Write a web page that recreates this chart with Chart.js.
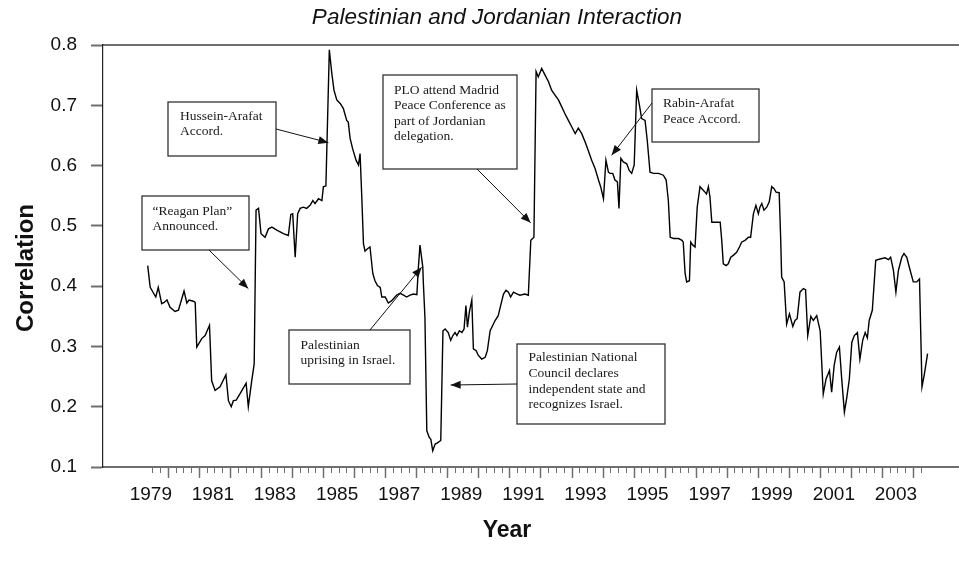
<!DOCTYPE html>
<html>
<head>
<meta charset="utf-8">
<title>Palestinian and Jordanian Interaction</title>
<script src="https://cdn.jsdelivr.net/npm/chart.js@4/dist/chart.umd.min.js"></script>
<style>
  html, body { margin: 0; padding: 0; background: #fff; }
  #chart { display: block; }
</style>
</head>
<body>
<canvas id="chart" width="959" height="574"></canvas>
<script>
// Data (decimal year, correlation)
const years = [
  1978.90, 1978.98, 1979.16, 1979.24, 1979.35, 1979.43, 1979.52, 1979.62, 1979.78, 1979.89,
  1980.07, 1980.16, 1980.23, 1980.37, 1980.43, 1980.48, 1980.64, 1980.75, 1980.89, 1980.96,
  1981.07, 1981.23, 1981.42, 1981.50, 1981.59, 1981.66, 1981.75, 1981.88, 1982.07, 1982.14,
  1982.25, 1982.33, 1982.39, 1982.47, 1982.55, 1982.68, 1982.79, 1982.90, 1983.06, 1983.27,
  1983.43, 1983.51, 1983.57, 1983.65, 1983.73, 1983.81, 1983.91, 1984.02, 1984.13, 1984.22,
  1984.29, 1984.40, 1984.51, 1984.56, 1984.64, 1984.75, 1984.83, 1984.90, 1984.99, 1985.10,
  1985.20, 1985.31, 1985.36, 1985.42, 1985.50, 1985.61, 1985.69, 1985.74, 1985.80, 1985.85,
  1985.90, 1985.98, 1986.06, 1986.15, 1986.22, 1986.30, 1986.39, 1986.44, 1986.55, 1986.65,
  1986.76, 1986.92, 1987.03, 1987.14, 1987.24, 1987.35, 1987.46, 1987.57, 1987.62, 1987.67,
  1987.76, 1987.78, 1987.83, 1987.89, 1987.97, 1988.02, 1988.08, 1988.16, 1988.23, 1988.34,
  1988.41, 1988.48, 1988.58, 1988.66, 1988.73, 1988.80, 1988.86, 1988.94, 1989.02, 1989.09,
  1989.15, 1989.20, 1989.26, 1989.34, 1989.39, 1989.48, 1989.55, 1989.66, 1989.77, 1989.84,
  1989.93, 1990.09, 1990.19, 1990.27, 1990.36, 1990.44, 1990.52, 1990.59, 1990.68, 1990.79,
  1990.89, 1991.05, 1991.16, 1991.24, 1991.34, 1991.41, 1991.48, 1991.59, 1991.70, 1991.81,
  1991.91, 1992.02, 1992.13, 1992.24, 1992.34, 1992.45, 1992.56, 1992.67, 1992.77, 1992.88,
  1992.99, 1993.09, 1993.20, 1993.31, 1993.42, 1993.49, 1993.58, 1993.66, 1993.74, 1993.79,
  1993.88, 1993.95, 1994.03, 1994.08, 1994.14, 1994.22, 1994.33, 1994.41, 1994.49, 1994.57,
  1994.65, 1994.74, 1994.81, 1994.92, 1994.99, 1995.08, 1995.19, 1995.35, 1995.51, 1995.60,
  1995.67, 1995.73, 1995.84, 1996.00, 1996.11, 1996.15, 1996.21, 1996.26, 1996.35, 1996.39,
  1996.46, 1996.53, 1996.60, 1996.69, 1996.78, 1996.85, 1996.90, 1996.96, 1997.01, 1997.07,
  1997.17, 1997.34, 1997.39, 1997.44, 1997.53, 1997.60, 1997.68, 1997.76, 1997.87, 1997.96,
  1998.03, 1998.14, 1998.25, 1998.32, 1998.41, 1998.49, 1998.57, 1998.62, 1998.68, 1998.75,
  1998.84, 1998.92, 1999.00, 1999.07, 1999.14, 1999.24, 1999.29, 1999.32, 1999.40, 1999.48,
  1999.57, 1999.68, 1999.75, 1999.82, 1999.91, 2000.02, 2000.09, 2000.16, 2000.26, 2000.34,
  2000.45, 2000.56, 2000.66, 2000.75, 2000.86, 2000.93, 2001.01, 2001.09, 2001.18, 2001.25,
  2001.34, 2001.42, 2001.50, 2001.58, 2001.66, 2001.76, 2001.84, 2001.93, 2002.01, 2002.08,
  2002.14, 2002.24, 2002.35, 2002.49, 2002.65, 2002.76, 2002.83, 2002.92, 2003.00, 2003.08,
  2003.19, 2003.26, 2003.35, 2003.46, 2003.56, 2003.67, 2003.76, 2003.84, 2003.91, 2004.02
];
const correlation = [
  0.434, 0.398, 0.382, 0.398, 0.371, 0.373, 0.377, 0.365, 0.358, 0.360,
  0.392, 0.372, 0.377, 0.375, 0.373, 0.299, 0.313, 0.318, 0.335, 0.243,
  0.227, 0.233, 0.253, 0.210, 0.200, 0.210, 0.211, 0.222, 0.239, 0.200,
  0.243, 0.271, 0.526, 0.529, 0.487, 0.481, 0.495, 0.498, 0.493, 0.487,
  0.484, 0.519, 0.520, 0.448, 0.520, 0.529, 0.531, 0.529, 0.534, 0.542,
  0.537, 0.545, 0.542, 0.565, 0.566, 0.792, 0.753, 0.725, 0.709, 0.703,
  0.695, 0.675, 0.672, 0.645, 0.628, 0.609, 0.601, 0.620, 0.542, 0.470,
  0.458, 0.462, 0.465, 0.421, 0.409, 0.401, 0.398, 0.382, 0.382, 0.372,
  0.376, 0.385, 0.388, 0.385, 0.382, 0.385, 0.387, 0.386, 0.432, 0.468,
  0.432, 0.404, 0.348, 0.160, 0.149, 0.146, 0.127, 0.138, 0.140, 0.144,
  0.326, 0.329, 0.323, 0.310, 0.318, 0.323, 0.318, 0.326, 0.323, 0.329,
  0.368, 0.332, 0.357, 0.377, 0.296, 0.293, 0.285, 0.279, 0.282, 0.293,
  0.326, 0.343, 0.351, 0.368, 0.387, 0.393, 0.390, 0.382, 0.390, 0.387,
  0.385, 0.387, 0.385, 0.476, 0.481, 0.756, 0.747, 0.761, 0.750, 0.739,
  0.725, 0.717, 0.709, 0.697, 0.686, 0.675, 0.664, 0.653, 0.662, 0.653,
  0.639, 0.625, 0.609, 0.595, 0.576, 0.565, 0.545, 0.609, 0.589, 0.587,
  0.587, 0.576, 0.573, 0.529, 0.612, 0.606, 0.603, 0.592, 0.587, 0.601,
  0.725, 0.700, 0.678, 0.675, 0.642, 0.589, 0.587, 0.587, 0.584, 0.576,
  0.542, 0.481, 0.479, 0.479, 0.476, 0.473, 0.421, 0.407, 0.409, 0.473,
  0.468, 0.465, 0.531, 0.565, 0.560, 0.556, 0.553, 0.565, 0.548, 0.506,
  0.506, 0.506, 0.476, 0.437, 0.434, 0.437, 0.448, 0.451, 0.456, 0.465,
  0.473, 0.476, 0.481, 0.481, 0.520, 0.534, 0.520, 0.531, 0.537, 0.526,
  0.531, 0.540, 0.565, 0.562, 0.556, 0.555, 0.476, 0.415, 0.407, 0.337,
  0.354, 0.333, 0.343, 0.346, 0.390, 0.396, 0.394, 0.318, 0.350, 0.343,
  0.351, 0.326, 0.221, 0.246, 0.260, 0.224, 0.268, 0.290, 0.299, 0.249,
  0.191, 0.216, 0.246, 0.307, 0.318, 0.323, 0.279, 0.310, 0.323, 0.314,
  0.343, 0.360, 0.443, 0.445, 0.447, 0.444, 0.448, 0.426, 0.390, 0.426,
  0.448, 0.454, 0.448, 0.426, 0.407, 0.407, 0.412, 0.233, 0.252, 0.288
];

// Axis ticks
const yTicks = [0.1, 0.2, 0.3, 0.4, 0.5, 0.6, 0.7, 0.8];
const yearLabels = [1979, 1981, 1983, 1985, 1987, 1989, 1991, 1993, 1995, 1997, 1999, 2001, 2003];
const firstQuarterTick = 1979.067;
const quarterTickCount = 100;
const quarterTicks = [];
for (let i = 0; i < quarterTickCount; i++) quarterTicks.push(firstQuarterTick + i * 0.25);
const yearTicks = quarterTicks.filter((v, i) => i % 4 === 2);

// Callouts: box in px, arrow tip in data units
const notes = [
  { lines: ['Hussein-Arafat', 'Accord.'], box: [168, 102, 108, 54], text: [180, 116.5], gap: 14.5,
    from: [276, 129], tip: [1984.72, 0.638] },
  { lines: ['\u201CReagan Plan\u201D', 'Announced.'], box: [142, 196, 107, 54], text: [152.5, 211.5], gap: 14.5,
    from: [209, 250], tip: [1982.14, 0.396] },
  { lines: ['PLO attend Madrid', 'Peace Conference as', 'part of Jordanian', 'delegation.'], box: [383, 75, 134, 94],
    text: [394, 90], gap: 15.5, from: [477, 169], tip: [1991.235, 0.505] },
  { lines: ['Rabin-Arafat', 'Peace Accord.'], box: [652, 89, 107, 53], text: [663, 103], gap: 16,
    from: [652, 103], tip: [1993.844, 0.617] },
  { lines: ['Palestinian', 'uprising in Israel.'], box: [289, 330, 121, 54], text: [300.5, 345], gap: 15,
    from: [370, 330], tip: [1987.724, 0.4315] },
  { lines: ['Palestinian National', 'Council declares', 'independent state and', 'recognizes Israel.'],
    box: [517, 344, 148, 80], text: [528.5, 357.5], gap: 15.8, from: [517, 384], tip: [1988.658, 0.236] }
];

const axisGray = '#6f6f6f';

function drawArrow(ctx, x1, y1, x2, y2) {
  ctx.beginPath();
  ctx.moveTo(x1, y1);
  ctx.lineTo(x2, y2);
  ctx.stroke();
  const a = Math.atan2(y2 - y1, x2 - x1);
  const L = 10, W = 4;
  ctx.beginPath();
  ctx.moveTo(x2, y2);
  ctx.lineTo(x2 - L * Math.cos(a) + W * Math.sin(a), y2 - L * Math.sin(a) - W * Math.cos(a));
  ctx.lineTo(x2 - L * Math.cos(a) - W * Math.sin(a), y2 - L * Math.sin(a) + W * Math.cos(a));
  ctx.closePath();
  ctx.fill();
}

const calloutPlugin = {
  id: 'callouts',
  afterDatasetsDraw(chart) {
    const ctx = chart.ctx;
    const xs = chart.scales.x, ys = chart.scales.y;
    ctx.save();
    notes.forEach(n => {
      const [bx, by, bw, bh] = n.box;
      ctx.fillStyle = '#fff';
      ctx.fillRect(bx, by, bw, bh);
      ctx.strokeStyle = '#333';
      ctx.lineWidth = 1.3;
      ctx.strokeRect(bx, by, bw, bh);
      ctx.fillStyle = '#1a1a1a';
      ctx.font = '13.5px "Liberation Serif", "Times New Roman", serif';
      ctx.textAlign = 'left';
      ctx.textBaseline = 'middle';
      n.lines.forEach((t, i) => ctx.fillText(t, n.text[0], n.text[1] + i * n.gap));
      ctx.strokeStyle = '#111';
      ctx.fillStyle = '#111';
      ctx.lineWidth = 1;
      drawArrow(ctx, n.from[0], n.from[1], xs.getPixelForValue(n.tip[0]), ys.getPixelForValue(n.tip[1]));
    });
    ctx.restore();
  },
  afterDraw(chart) {
    const ctx = chart.ctx;
    ctx.save();
    ctx.fillStyle = '#111';
    ctx.textAlign = 'center';
    ctx.textBaseline = 'middle';
    ctx.font = 'italic 22.5px "Liberation Sans", Arial, sans-serif';
    ctx.fillText('Palestinian and Jordanian Interaction', 497, 18);
    ctx.font = 'bold 23px "Liberation Sans", Arial, sans-serif';
    ctx.fillText('Year', 507, 531);
    ctx.font = 'bold 24px "Liberation Sans", Arial, sans-serif';
    ctx.translate(26, 268);
    ctx.rotate(-Math.PI / 2);
    ctx.fillText('Correlation', 0, 0);
    ctx.restore();
  }
};

const xRange = { min: 1977.46, max: 2005.0 };

new Chart(document.getElementById('chart'), {
  type: 'line',
  data: {
    datasets: [{
      data: years.map((t, i) => ({ x: t, y: correlation[i] })),
      borderColor: '#000',
      borderWidth: 1.4,
      pointRadius: 0,
      tension: 0,
      fill: false
    }]
  },
  options: {
    responsive: false,
    animation: false,
    layout: { padding: { top: 45, left: 0, right: 1, bottom: 0 } },
    plugins: { legend: { display: false }, tooltip: { enabled: false } },
    scales: {
      x: {
        type: 'linear', position: 'bottom', ...xRange,
        afterBuildTicks: s => { s.ticks = quarterTicks.map(v => ({ value: v })); },
        afterFit: s => { s.height = 0; },
        ticks: { display: false },
        grid: { drawOnChartArea: false, drawTicks: true, tickLength: 6, tickColor: axisGray, tickWidth: 1 },
        border: { display: true, color: axisGray, width: 2 }
      },
      xMajor: {
        type: 'linear', position: 'bottom', ...xRange,
        afterBuildTicks: s => { s.ticks = yearTicks.map(v => ({ value: v })); },
        afterFit: s => { s.height = 0; },
        ticks: { display: false },
        grid: { drawOnChartArea: false, drawTicks: true, tickLength: 11, tickColor: axisGray, tickWidth: 1.5 },
        border: { display: false }
      },
      xLabels: {
        type: 'linear', position: 'bottom', ...xRange,
        afterBuildTicks: s => { s.ticks = yearLabels.map(v => ({ value: v })); },
        afterFit: s => { s.height = 107; },
        ticks: {
          autoSkip: false, maxRotation: 0, padding: 16, color: '#111',
          font: { family: '"Liberation Sans", Arial, sans-serif', size: 19 },
          callback: v => String(v)
        },
        grid: { display: false, drawTicks: false },
        border: { display: false }
      },
      xTop: {
        type: 'linear', position: 'top', ...xRange,
        afterFit: s => { s.height = 0; },
        ticks: { display: false },
        grid: { display: false, drawTicks: false },
        border: { display: true, color: axisGray, width: 2 }
      },
      y: {
        min: 0.1, max: 0.8,
        afterBuildTicks: s => { s.ticks = yTicks.map(v => ({ value: v })); },
        afterFit: s => { s.width = 103; },
        ticks: {
          padding: 14, color: '#111',
          font: { family: '"Liberation Sans", Arial, sans-serif', size: 19 },
          callback: v => v.toFixed(1)
        },
        grid: { drawOnChartArea: false, drawTicks: true, tickLength: 12, tickColor: axisGray, tickWidth: 2 },
        border: { display: true, color: '#222', width: 1.2 }
      }
    }
  },
  plugins: [calloutPlugin]
});
</script>
</body>
</html>
